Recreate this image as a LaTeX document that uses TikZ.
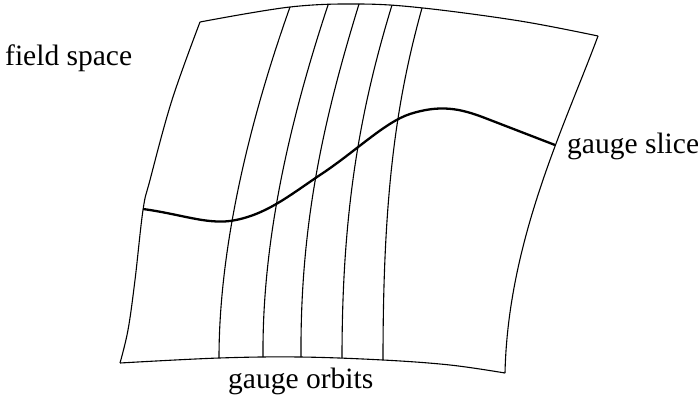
\documentclass[tikz,border=0pt]{standalone}
\usepackage{fontspec}
\setmainfont{Liberation Serif}
\begin{document}
\begin{tikzpicture}[x=1pt,y=-1pt,
  edge/.style={line width=1.1pt, line join=round},
  orbit/.style={line width=1.1pt},
  slice/.style={line width=2.3pt, line join=round},
  lbl/.style={anchor=base west, inner sep=0pt, font=\fontsize{29.5}{34}\selectfont}]
\useasboundingbox (0,0) rectangle (698,397);
% corners
\coordinate (TL) at (200,22);
\coordinate (TR) at (598,36);
\coordinate (BR) at (505,373);
\coordinate (BL) at (120,363);
% top edge
\draw[edge] plot[smooth, tension=0.6] coordinates {(200,22) (290,7) (360,4) (423,8) (520,21) (598,36)};
% bottom edge
\draw[edge] plot[smooth, tension=0.6] coordinates {(120,363) (219,358) (300,357) (383,360) (450,365) (505,373)};
% left edge
\draw[edge] plot[smooth, tension=0.6] coordinates {(200,22) (172,100) (150,180) (143,210) (135,280) (128,330) (120,363)};
% right edge
\draw[edge] (TR) .. controls (565,125) and (508,240) .. (BR);
% gauge orbits
\draw[orbit] (290,7) .. controls (248,125) and (219,250) .. (219,358);
\draw[orbit] (328,5) .. controls (290,120) and (262,240) .. (263,357);
\draw[orbit] (359,4) .. controls (325,115) and (300,220) .. (301,357);
\draw[orbit] (392,5) .. controls (360,110) and (342,210) .. (342,358);
\draw[orbit] (422,8) .. controls (395,105) and (383,200) .. (383,360);
% gauge slice
\coordinate (S0) at (143,209);
\coordinate (S1) at (555,145);
\draw[slice] (S0) .. controls (180,214) and (205,224) .. (230,221)
  .. controls (265,216) and (290,195) .. (320,175)
  .. controls (355,152) and (385,122) .. (410,114)
  .. controls (440,104.4) and (460,108.3) .. (485,118) -- (S1);
% labels
\node[lbl] (fs) at (5,65) {field space};
\node[lbl] (gs) at (567,153) {gauge slice};
\node[lbl] (go) at (228,388) {gauge orbits};
\end{tikzpicture}
\end{document}
